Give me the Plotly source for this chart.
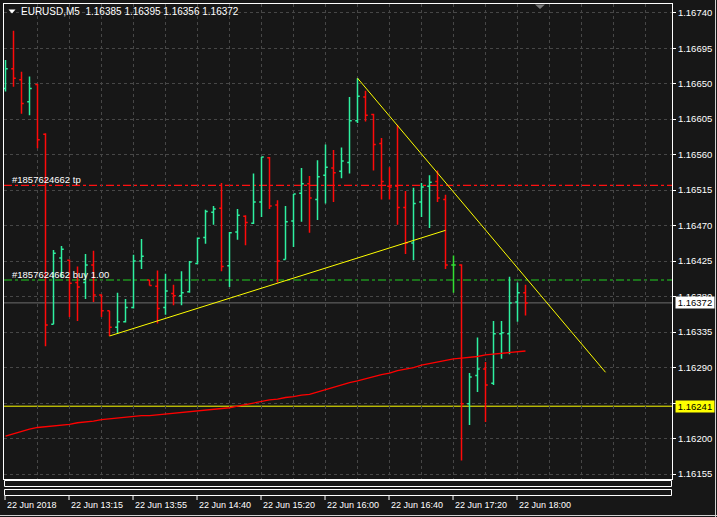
import plotly.graph_objects as go

# ---------------- data ----------------
symbol = "EURUSD,M5"
bar_open = [1.16644, 1.16669, 1.16655, 1.16627, 1.16649, 1.16586, 1.16345, 1.16429, 1.16426, 1.16398,
            1.16398, 1.16420, 1.16382, 1.16362, 1.16341, 1.16348, 1.16366, 1.16425, 1.16401, 1.16393,
            1.16366, 1.16384, 1.16381, 1.16386, 1.16422, 1.16455, 1.16487, 1.16492, 1.16419, 1.16462,
            1.16482, 1.16473, 1.16500, 1.16556, 1.16496, 1.16427, 1.16476, 1.16511, 1.16523, 1.16503,
            1.16534, 1.16543, 1.16539, 1.16550, 1.16603, 1.16633, 1.16611, 1.16574, 1.16520, 1.16520,
            1.16493, 1.16448, 1.16500, 1.16520, 1.16526, 1.16503, 1.16420, 1.16420, 1.16244, 1.16280,
            1.16288, 1.16270, 1.16333, 1.16333, 1.16373, 1.16385]
bar_high = [1.16680, 1.16717, 1.16665, 1.16659, 1.16650, 1.16587, 1.16439, 1.16444, 1.16427, 1.16418,
            1.16434, 1.16438, 1.16383, 1.16362, 1.16385, 1.16377, 1.16433, 1.16453, 1.16401, 1.16413,
            1.16409, 1.16395, 1.16412, 1.16425, 1.16455, 1.16490, 1.16495, 1.16524, 1.16462, 1.16491,
            1.16483, 1.16536, 1.16557, 1.16557, 1.16502, 1.16495, 1.16510, 1.16543, 1.16533, 1.16553,
            1.16573, 1.16566, 1.16569, 1.16633, 1.16657, 1.16641, 1.16612, 1.16581, 1.16544, 1.16598,
            1.16514, 1.16518, 1.16524, 1.16534, 1.16540, 1.16509, 1.16432, 1.16421, 1.16283, 1.16328,
            1.16297, 1.16349, 1.16349, 1.16405, 1.16398, 1.16395]
bar_low = [1.16640, 1.16646, 1.16612, 1.16610, 1.16568, 1.16317, 1.16345, 1.16404, 1.16354, 1.16349,
           1.16377, 1.16373, 1.16354, 1.16330, 1.16333, 1.16347, 1.16365, 1.16415, 1.16394, 1.16346,
           1.16357, 1.16369, 1.16369, 1.16385, 1.16421, 1.16447, 1.16471, 1.16412, 1.16392, 1.16452,
           1.16445, 1.16472, 1.16481, 1.16491, 1.16398, 1.16427, 1.16443, 1.16475, 1.16461, 1.16477,
           1.16498, 1.16500, 1.16530, 1.16536, 1.16600, 1.16602, 1.16540, 1.16503, 1.16503, 1.16471,
           1.16434, 1.16426, 1.16481, 1.16467, 1.16500, 1.16415, 1.16385, 1.16172, 1.16217, 1.16259,
           1.16221, 1.16268, 1.16301, 1.16307, 1.16348, 1.16356]
bar_close = [1.16669, 1.16657, 1.16625, 1.16644, 1.16579, 1.16344, 1.16435, 1.16440, 1.16397, 1.16392,
             1.16420, 1.16382, 1.16362, 1.16341, 1.16348, 1.16366, 1.16425, 1.16431, 1.16394, 1.16365,
             1.16387, 1.16381, 1.16385, 1.16424, 1.16454, 1.16488, 1.16491, 1.16418, 1.16461, 1.16483,
             1.16474, 1.16500, 1.16557, 1.16495, 1.16425, 1.16475, 1.16510, 1.16523, 1.16505, 1.16532,
             1.16544, 1.16537, 1.16552, 1.16603, 1.16634, 1.16610, 1.16573, 1.16526, 1.16519, 1.16493,
             1.16448, 1.16498, 1.16519, 1.16525, 1.16505, 1.16420, 1.16420, 1.16244, 1.16278, 1.16288,
             1.16268, 1.16333, 1.16334, 1.16372, 1.16385, 1.16372]
moving_avg = [1.16203, 1.16206, 1.16209, 1.16212, 1.16214, 1.16215, 1.16216, 1.16217, 1.16218, 1.16220,
              1.16221, 1.16222, 1.16224, 1.16225, 1.16226, 1.16227, 1.16228, 1.16229, 1.16229, 1.16230,
              1.16231, 1.16232, 1.16233, 1.16234, 1.16235, 1.16236, 1.16237, 1.16238, 1.16239, 1.16241,
              1.16243, 1.16245, 1.16247, 1.16249, 1.16250, 1.16252, 1.16253, 1.16255, 1.16256, 1.16259,
              1.16262, 1.16265, 1.16268, 1.16271, 1.16273, 1.16276, 1.16278, 1.16281, 1.16283, 1.16286,
              1.16288, 1.16290, 1.16293, 1.16295, 1.16297, 1.16299, 1.16301, 1.16302, 1.16303, 1.16304,
              1.16306, 1.16307, 1.16308, 1.16309, 1.16310, 1.16311]

trend_up_x = [13, 55]
trend_up_y = [1.16330, 1.16464]
trend_down_x = [44, 75]
trend_down_y = [1.16657, 1.16284]

tp_price = 1.16521
buy_price = 1.16401
bid_price = 1.16372
level_price = 1.16241
tp_label = "#1857624662 tp"
buy_label = "#1857624662 buy 1.00"

time_label_bars = [0, 8, 16, 24, 32, 40, 48, 56, 64]
time_labels = ["22 Jun 2018", "22 Jun 13:15", "22 Jun 13:55", "22 Jun 14:40", "22 Jun 15:20",
               "22 Jun 16:00", "22 Jun 16:40", "22 Jun 17:20", "22 Jun 18:00"]
price_ticks = [1.16155, 1.16200, 1.16245, 1.16290, 1.16335, 1.16380, 1.16425, 1.16470,
               1.16515, 1.16560, 1.16605, 1.16650, 1.16695, 1.16740]
hidden_tick_labels = [1.16245]  # fully covered by the level price box

# ---------------- style ----------------
W, H = 717, 517
BG = "#171717"
GRID = "#474747"
UP = "#2ef0a0"
DOWN = "#ff0a0a"
DOJI = "#33e033"
FONT = "Liberation Sans, Arial, sans-serif"
BAR_W = 1.5


def fx(px):
    return px / W


def fy(py):
    return 1 - py / H


idx = list(range(len(bar_open)))
doji = [i for i in idx if bar_open[i] == bar_close[i]]
normal = [i for i in idx if i not in doji]


def pick(arr, ids):
    return [arr[i] for i in ids]


fig = go.Figure()
fig.add_trace(go.Ohlc(
    x=normal, open=pick(bar_open, normal), high=pick(bar_high, normal),
    low=pick(bar_low, normal), close=pick(bar_close, normal),
    increasing=dict(line=dict(color=UP, width=BAR_W)),
    decreasing=dict(line=dict(color=DOWN, width=BAR_W)),
    tickwidth=0.28, hoverinfo="skip", showlegend=False))
fig.add_trace(go.Ohlc(
    x=doji, open=pick(bar_open, doji), high=pick(bar_high, doji),
    low=pick(bar_low, doji), close=pick(bar_close, doji),
    increasing=dict(line=dict(color=DOJI, width=BAR_W)),
    decreasing=dict(line=dict(color=DOJI, width=BAR_W)),
    tickwidth=0.28, hoverinfo="skip", showlegend=False))
fig.add_trace(go.Scatter(x=idx, y=moving_avg, mode="lines",
                         line=dict(color="#ff0000", width=1.3), hoverinfo="skip", showlegend=False))
fig.add_trace(go.Scatter(x=trend_up_x, y=trend_up_y, mode="lines",
                         line=dict(color="#ffff00", width=1), hoverinfo="skip", showlegend=False))
fig.add_trace(go.Scatter(x=trend_down_x, y=trend_down_y, mode="lines",
                         line=dict(color="#ffff00", width=1), hoverinfo="skip", showlegend=False))

shapes = []
# horizontal level lines
shapes.append(dict(type="line", xref="x domain", yref="y", x0=0, x1=1, y0=tp_price, y1=tp_price,
                   line=dict(color="#ff1010", width=1.2, dash="8px,3px,3px,3px"), layer="below"))
shapes.append(dict(type="line", xref="x domain", yref="y", x0=0, x1=1, y0=buy_price, y1=buy_price,
                   line=dict(color="#22d022", width=1.2, dash="8px,3px,3px,3px"), layer="below"))
shapes.append(dict(type="line", xref="x domain", yref="y", x0=0, x1=1, y0=bid_price, y1=bid_price,
                   line=dict(color="#6e6e6e", width=1), layer="below"))
shapes.append(dict(type="line", xref="x domain", yref="y", x0=0, x1=1, y0=level_price, y1=level_price,
                   line=dict(color="#ffff00", width=1), layer="below"))
# indicator sub-windows
for top, bot in [(480.5, 486.5), (489.5, 495.5)]:
    shapes.append(dict(type="rect", xref="paper", yref="paper", x0=fx(4.5), x1=fx(671.5),
                       y0=fy(bot), y1=fy(top), line=dict(color="#ffffff", width=1), fillcolor=BG))
# time-axis tick marks
for b in time_label_bars:
    shapes.append(dict(type="line", xref="x", yref="paper", x0=b - 0.06, x1=b - 0.06,
                       y0=fy(500), y1=fy(496), line=dict(color="#ffffff", width=1)))
# menu triangle and chart-shift marker
shapes.append(dict(type="path", xref="paper", yref="paper",
                   path=f"M {fx(8.5)} {fy(9.5)} L {fx(15.5)} {fy(9.5)} L {fx(12)} {fy(13.5)} Z",
                   fillcolor="#ffffff", line=dict(width=0)))
shapes.append(dict(type="path", xref="paper", yref="paper",
                   path=f"M {fx(535)} {fy(4.5)} L {fx(545)} {fy(4.5)} L {fx(540)} {fy(9)} Z",
                   fillcolor="#7a7a7a", line=dict(width=0)))
# window edges
shapes.append(dict(type="line", xref="paper", yref="paper", x0=fx(715.5), x1=fx(715.5),
                   y0=0, y1=1, line=dict(color="#d0d0d0", width=1)))
shapes.append(dict(type="line", xref="paper", yref="paper", x0=0, x1=1,
                   y0=fy(515.5), y1=fy(515.5), line=dict(color="#d0d0d0", width=1)))

annotations = []
title_text = "{}  {:.5f} {:.5f} {:.5f} {:.5f}".format(
    symbol, bar_open[-1], bar_high[-1], bar_low[-1], bar_close[-1])
annotations.append(dict(xref="paper", yref="paper", x=fx(19), y=fy(11.5), text=title_text,
                        xanchor="left", yanchor="middle", showarrow=False,
                        font=dict(family=FONT, size=10, color="#ffffff")))
annotations.append(dict(xref="paper", yref="y", x=fx(10), y=tp_price, yshift=6, text=tp_label,
                        xanchor="left", yanchor="middle", showarrow=False,
                        font=dict(family=FONT, size=9.5, color="#ffffff")))
annotations.append(dict(xref="paper", yref="y", x=fx(10), y=buy_price, yshift=6, text=buy_label,
                        xanchor="left", yanchor="middle", showarrow=False,
                        font=dict(family=FONT, size=9.5, color="#ffffff")))
for b, t in zip(time_label_bars, time_labels):
    annotations.append(dict(xref="x", yref="paper", x=b - 0.1, y=fy(505), text=t,
                            xanchor="left", yanchor="middle", showarrow=False,
                            font=dict(family=FONT, size=9, color="#ffffff")))
annotations.append(dict(xref="paper", yref="y", x=fx(675), y=bid_price, text=f"{bid_price:.5f}",
                        xanchor="left", yanchor="middle", showarrow=False, bgcolor="#ffffff",
                        width=38, height=11, borderpad=0,
                        font=dict(family=FONT, size=9.5, color="#000000")))
annotations.append(dict(xref="paper", yref="y", x=fx(675), y=level_price, text=f"{level_price:.5f}",
                        xanchor="left", yanchor="middle", showarrow=False, bgcolor="#ffff00",
                        width=38, height=11, borderpad=0,
                        font=dict(family=FONT, size=9.5, color="#000000")))

tick_text = ["" if v in hidden_tick_labels else f"{v:.5f}" for v in price_ticks]

fig.update_layout(
    width=W, height=H, margin=dict(l=0, r=0, t=0, b=0),
    paper_bgcolor=BG, plot_bgcolor=BG, hovermode=False, showlegend=False,
    shapes=shapes, annotations=annotations,
    xaxis=dict(domain=[fx(4), fx(672)], range=[-0.1875, 83.3125],
               tickvals=list(range(4, 84, 4)), showticklabels=False, ticks="",
               showgrid=True, gridcolor=GRID, griddash="3px,3px", gridwidth=1,
               zeroline=False, showline=True, mirror=True, linecolor="#ffffff", linewidth=1,
               rangeslider=dict(visible=False), fixedrange=True),
    yaxis=dict(domain=[fy(479), fy(4)], range=[1.1614866, 1.1675103], side="right",
               tickvals=price_ticks, ticktext=tick_text,
               ticks="outside", ticklen=3, tickcolor="#ffffff",
               tickfont=dict(family=FONT, size=9.5, color="#ffffff"),
               showgrid=True, gridcolor=GRID, griddash="3px,3px", gridwidth=1,
               zeroline=False, showline=True, mirror=True, linecolor="#ffffff", linewidth=1,
               automargin=False, fixedrange=True),
)

fig.write_html("out.html", config={"displayModeBar": False},
               post_script="document.body.style.margin='0';document.body.style.background='" + BG + "';")
